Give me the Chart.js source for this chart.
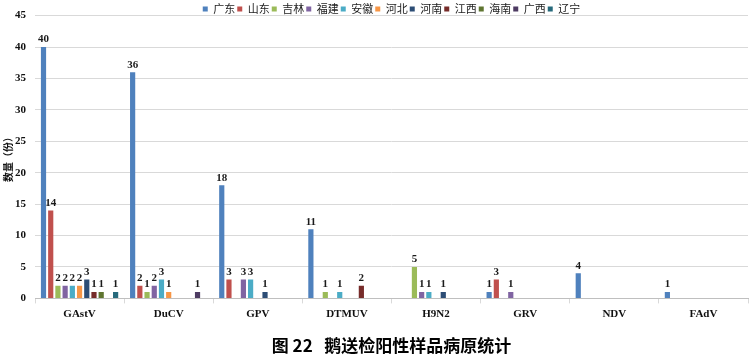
<!DOCTYPE html>
<html>
<head>
<meta charset="utf-8">
<script src="https://cdn.jsdelivr.net/npm/chart.js@4/dist/chart.umd.min.js"></script>
<style>
html,body{margin:0;padding:0;background:#fff;}
#wrap{width:750px;height:358px;}
</style>
</head>
<body>
<div id="wrap"><canvas id="c" width="750" height="358"></canvas></div>
<script>
const categories = ['GAstV','DuCV','GPV','DTMUV','H9N2','GRV','NDV','FAdV'];
const seriesNames = ['广东','山东','吉林','福建','安徽','河北','河南','江西','海南','广西','辽宁'];
const guangdong = [40,36,18,11,null,1,4,1];
const shandong  = [14,2,3,null,null,3,null,null];
const jilin     = [2,1,null,1,5,null,null,null];
const fujian    = [2,2,3,null,1,1,null,null];
const anhui     = [2,3,3,1,1,null,null,null];
const hebei     = [2,1,null,null,null,null,null,null];
const henan     = [3,null,1,null,1,null,null,null];
const jiangxi   = [1,null,null,2,null,null,null,null];
const hainan    = [1,null,null,null,null,null,null,null];
const guangxi   = [null,1,null,null,null,null,null,null];
const liaoning  = [1,null,null,null,null,null,null,null];
const yTicks = [0,5,10,15,20,25,30,35,40,45];
const yTitle = '数量（份）';
const caption = '图 22   鹅送检阳性样品病原统计';

const seriesValues = [guangdong,shandong,jilin,fujian,anhui,hebei,henan,jiangxi,hainan,guangxi,liaoning];
const colors = ['#4F81BD','#C0504D','#9BBB59','#8064A2','#4BACC6','#F79646','#2C4D75','#772C2A','#5F7530','#4D3B62','#276A7C'];

const serif = '"Liberation Serif","Times New Roman",serif';
const cjk = '"Noto Sans CJK SC","Noto Sans",sans-serif';

const valueLabels = {
  id: 'valueLabels',
  afterDatasetsDraw(chart) {
    const ctx = chart.ctx;
    ctx.save();
    ctx.font = 'bold 11px ' + serif;
    ctx.fillStyle = '#1a1a1a';
    ctx.textAlign = 'center';
    ctx.textBaseline = 'bottom';
    chart.data.datasets.forEach((ds, i) => {
      const meta = chart.getDatasetMeta(i);
      meta.data.forEach((el, j) => {
        const v = ds.data[j];
        if (v === null || v === undefined) return;
        ctx.fillText(String(v), el.x, el.y - 2);
      });
    });
    ctx.restore();
  }
};

const legendFit = {
  id: 'legendFit',
  beforeLayout(chart) {
    const lg = chart.legend;
    if (lg && !lg._patched) {
      const orig = lg.fit;
      lg.fit = function() { orig.call(this); this.height = 14; };
      lg._patched = true;
    }
  }
};

new Chart(document.getElementById('c'), {
  type: 'bar',
  data: {
    labels: categories,
    datasets: seriesNames.map((n, i) => ({
      label: n,
      data: seriesValues[i],
      backgroundColor: colors[i],
      borderWidth: 0,
      categoryPercentage: 0.89,
      barPercentage: 0.72
    }))
  },
  options: {
    responsive: false,
    animation: false,
    devicePixelRatio: 1,
    layout: { padding: { left: 0, right: 2, top: 0, bottom: 0 } },
    plugins: {
      legend: {
        position: 'top',
        fullSize: false,
        padding: { top: 3, bottom: 0 },
        labels: {
          boxWidth: 5,
          boxHeight: 5,
          padding: 2,
          color: '#222',
          font: { family: cjk, size: 11 }
        }
      },
      title: {
        display: true,
        text: caption,
        position: 'bottom',
        fullSize: false,
        color: '#000',
        font: { family: cjk, size: 17, weight: 'bold' },
        padding: { top: 11, bottom: 2 }
      },
      tooltip: { enabled: false }
    },
    scales: {
      x: {
        grid: {
          offset: true,
          drawOnChartArea: false,
          drawTicks: true,
          tickLength: 5,
          color: '#d9d9d9'
        },
        border: { color: '#bfbfbf' },
        ticks: {
          padding: 4,
          color: '#111',
          font: { family: serif, size: 11, weight: 'bold' }
        }
      },
      y: {
        min: 0,
        max: 45,
        afterBuildTicks(scale) { scale.ticks = yTicks.map(v => ({ value: v })); },
        afterFit(scale) { scale.width = 35; },
        grid: { color: '#d9d9d9', drawTicks: false },
        border: { display: false },
        ticks: {
          padding: 9,
          color: '#111',
          font: { family: serif, size: 11, weight: 'bold' }
        },
        title: {
          display: true,
          text: yTitle,
          color: '#111',
          padding: { top: 2, bottom: 0 },
          font: { family: cjk, size: 10, weight: 'bold' }
        }
      }
    }
  },
  plugins: [legendFit, valueLabels]
});
</script>
</body>
</html>
